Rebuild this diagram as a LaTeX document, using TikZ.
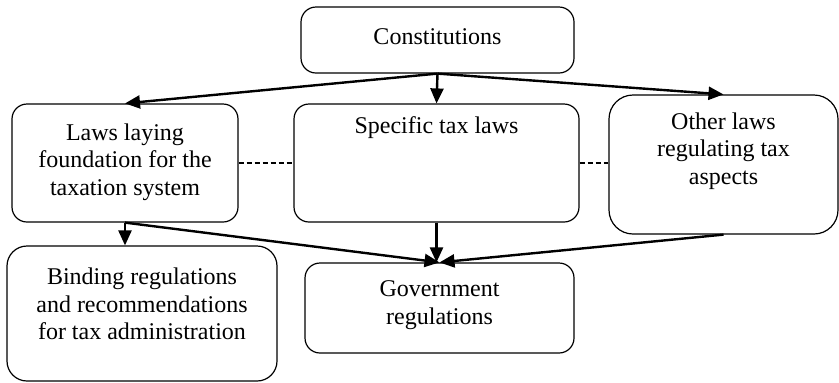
\documentclass[tikz,border=0pt]{standalone}
\usepackage{fontspec}
\setmainfont{Liberation Serif}
\usetikzlibrary{arrows.meta}
\begin{document}
\begin{tikzpicture}[x=0.5pt,y=-0.5pt,
  box/.style={draw, line width=0.6pt, rounded corners=#1, inner sep=0pt},
  box/.default=7.5pt,
  txt/.style={font=\fontsize{12pt}{13.8pt}\selectfont, align=center, inner sep=0pt},
  arr/.style={line width=1.2pt, -{Triangle[length=7.5pt,width=6.5pt]}},
  link/.style={line width=0.6pt, dash pattern=on 2.5pt off 1.5pt}]
\useasboundingbox (0,0) rectangle (839,382);

% boxes
\node[box, minimum width=136.5pt, minimum height=33pt] (con) at (437.5,40) {};
\node[box, minimum width=113pt, minimum height=59pt] (laws) at (125,163) {};
\node[box, minimum width=142.5pt, minimum height=59pt] (spec) at (436.5,163) {};
\node[box=12pt, minimum width=114.5pt, minimum height=69.5pt] (other) at (723.5,164.5) {};
\node[box=10pt, minimum width=135pt, minimum height=67.5pt] (bind) at (142,313.5) {};
\node[box, minimum width=134.5pt, minimum height=45pt] (gov) at (439.5,308) {};

% texts
\node[txt] at (437.5,37) {Constitutions};
\node[txt] at (125,162) {Laws laying\\foundation for the\\taxation system};
\node[txt] at (436.5,128) {Specific tax laws};
\node[txt] at (723.5,151) {Other laws\\regulating tax\\aspects};
\node[txt] at (142,304) {Binding regulations\\and recommendations\\for tax administration};
\node[txt] at (439.5,305) {Government\\regulations};

% arrows from the constitution
\draw[arr] (con.south) -- (laws.north);
\draw[arr] (con.south) -- (spec.north);
\draw[arr] (con.south) -- (other.north);

% arrows to the lower level
\draw[arr] (laws.south) -- (laws.south |- bind.north);
\draw[arr] (laws.south) -- (gov.north);
\draw[arr] (spec.south) -- (spec.south |- gov.north);
\draw[arr] (other.south) -- (gov.north);

% dashed links between the laws
\draw[link] (laws.east) -- (spec.west);
\draw[link] (spec.east) -- (spec.east -| other.west);
\end{tikzpicture}
\end{document}
